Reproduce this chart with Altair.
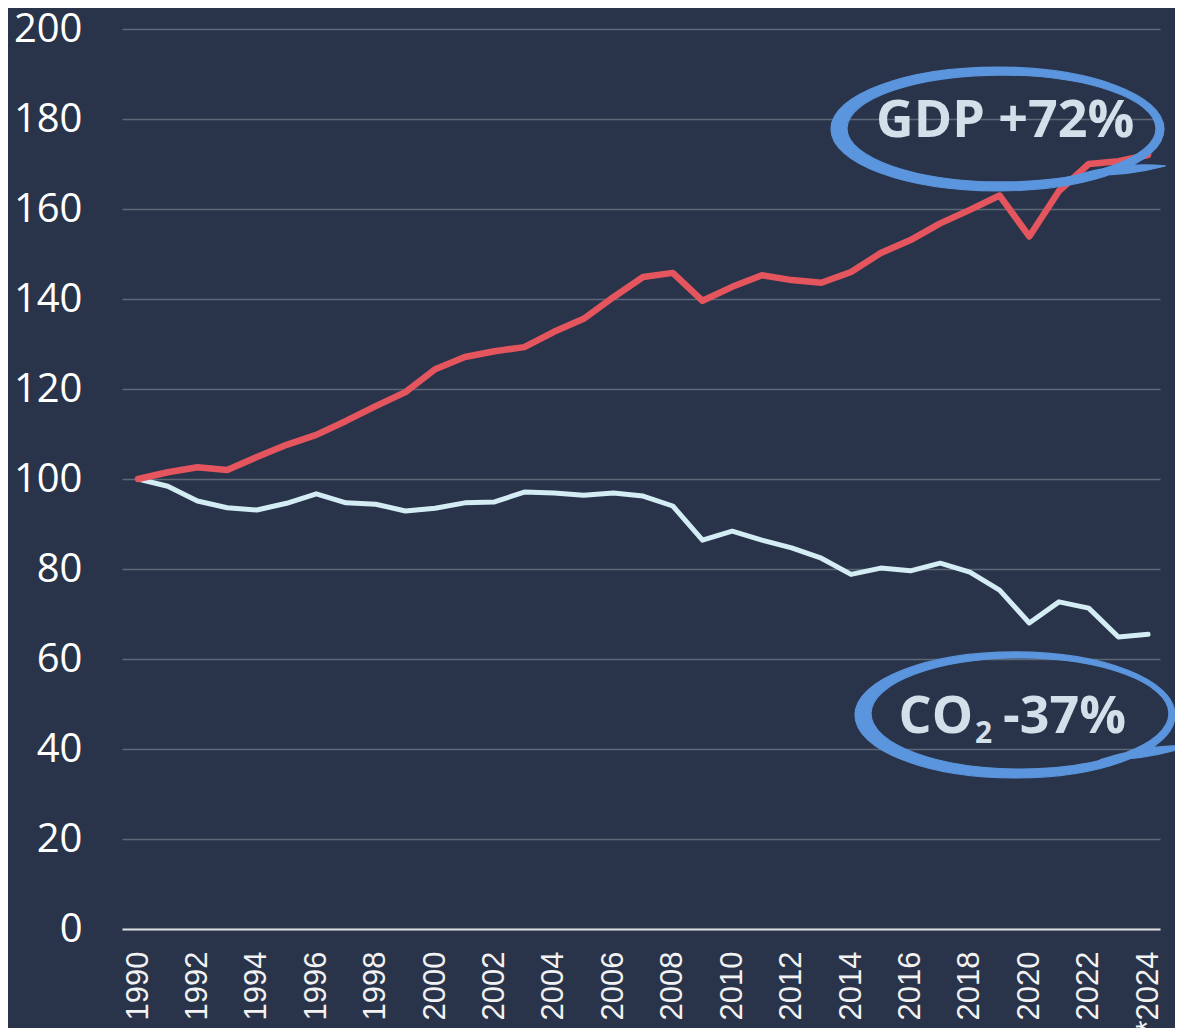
import altair as alt
import pandas as pd

# ---- data ----
years = list(range(1990, 2025))
gdp = [100.0, 101.5, 102.6, 102.0, 104.9, 107.6, 109.8, 112.9, 116.2, 119.3,
       124.4, 127.1, 128.4, 129.3, 132.7, 135.6, 140.4, 144.9, 145.8, 139.6,
       142.7, 145.3, 144.2, 143.6, 146.0, 150.2, 153.1, 156.8, 159.8, 163.0,
       153.9, 164.0, 170.0, 170.6, 172.0]
co2 = [100.0, 98.4, 95.1, 93.6, 93.1, 94.6, 96.7, 94.7, 94.4, 92.9,
       93.5, 94.7, 94.9, 97.1, 96.9, 96.4, 96.9, 96.2, 94.0, 86.4,
       88.4, 86.4, 84.7, 82.4, 78.8, 80.2, 79.6, 81.3, 79.3, 75.3,
       68.0, 72.7, 71.3, 64.9, 65.5]
x_tick_years = list(range(1990, 2025, 2))
y_ticks = list(range(0, 201, 20))

gdp_label = ["GDP +72%"]
gdp_label_pos = [2019.19, 176.0]
gdp_ring_pos = [2018.93, 177.78]

co2_label_parts = ["CO", "2", "-37%"]
co2_label_pos = [2018.14, 43.6]
co2_ring_pos = [2019.52, 47.56]

# ---- styling ----
BG = "#29344a"
RED = "#e5555d"
LIGHT = "#d4ecf4"
RING = "#5b95dd"
ANN_TEXT = "#d3dfe9"

df = pd.DataFrame({"year": years, "gdp": gdp, "co2": co2})

x_scale = alt.Scale(domain=[1989.46, 2024.40], nice=False, zero=False)
y_scale = alt.Scale(domain=[0, 200], nice=False)

x_axis = alt.Axis(
    values=x_tick_years,
    labelExpr="datum.value == 2024 ? '*2024' : '' + datum.value",
    labelAngle=270, labelFontSize=31, labelFont="Liberation Sans",
    labelColor="#f2f2f2", labelPadding=22, labelOverlap=False, labelFlush=False,
    ticks=False, grid=False, domain=True, domainColor="#dedede", domainWidth=2,
    title=None,
)
y_axis = alt.Axis(
    values=y_ticks, labelFontSize=40, labelFont="Open Sans", labelColor="#ffffff",
    labelPadding=40, ticks=False, domain=False, grid=True,
    gridColor="#5d6778", gridWidth=1.5, title=None,
)

base = alt.Chart(df).encode(x=alt.X("year:Q", scale=x_scale, axis=x_axis))

co2_line = base.mark_line(
    color=LIGHT, strokeWidth=5, strokeJoin="round", strokeCap="round"
).encode(y=alt.Y("co2:Q", scale=y_scale, axis=y_axis))

gdp_line = base.mark_line(
    color=RED, strokeWidth=6.5, strokeJoin="round", strokeCap="round"
).encode(y=alt.Y("gdp:Q", scale=y_scale))


K = 0.5523


def ellipse(cx, cy, rx, ry, clockwise=True):
    s = 1 if clockwise else -1
    f = lambda v: f"{v:.4f}"
    return (
        f"M {f(cx + rx)} {f(cy)} "
        f"C {f(cx + rx)} {f(cy + s * K * ry)} {f(cx + K * rx)} {f(cy + s * ry)} {f(cx)} {f(cy + s * ry)} "
        f"C {f(cx - K * rx)} {f(cy + s * ry)} {f(cx - rx)} {f(cy + s * K * ry)} {f(cx - rx)} {f(cy)} "
        f"C {f(cx - rx)} {f(cy - s * K * ry)} {f(cx - K * rx)} {f(cy - s * ry)} {f(cx)} {f(cy - s * ry)} "
        f"C {f(cx + K * rx)} {f(cy - s * ry)} {f(cx + rx)} {f(cy - s * K * ry)} {f(cx + rx)} {f(cy)} Z "
    )


def brush_ring(outer_ry, inner, tail):
    # hand-drawn ring: outer ellipse minus an offset inner ellipse, plus a tapered tail
    icx, icy, irx, iry = inner
    p = ellipse(0, 0, 1, outer_ry, True) + ellipse(icx, icy, irx, iry, False)
    (x0, y0), (x1, y1), cu, cl = tail
    mx = (x0 + x1) / 2
    p += f"M {x0} {y0} Q {mx:.3f} {cu} {x1} {y1} Q {mx:.3f} {cl} {x0} {y0} Z"
    return p


def ring(pos, rx, outer_ry, inner, tail):
    d = pd.DataFrame({"x": [pos[0]], "y": [pos[1]]})
    return alt.Chart(d).mark_point(
        shape=brush_ring(outer_ry, inner, tail), size=(2 * rx) ** 2, filled=True,
        fill=RING, stroke=RING, strokeWidth=1.2, opacity=1, fillOpacity=1,
        strokeJoin="round",
    ).encode(x=alt.X("x:Q", scale=x_scale), y=alt.Y("y:Q", scale=y_scale))


gdp_ring = ring(gdp_ring_pos, 166.5, 0.372, (0.024, -0.003, 0.928, 0.321),
                ((0.48, 0.276), (1.008, 0.222), 0.195, 0.291))
co2_ring = ring(co2_ring_pos, 160, 0.394, (0.031, -0.009, 0.931, 0.347),
                ((0.531, 0.281), (1.1, 0.19), 0.186, 0.286))


def text(label, pos, size, align, dx=0, dy=0):
    d = pd.DataFrame({"x": [pos[0]], "y": [pos[1]], "t": [label]})
    return alt.Chart(d).mark_text(
        font="Open Sans", fontWeight="bold", fontSize=size, color=ANN_TEXT,
        align=align, baseline="alphabetic", dx=dx, dy=dy,
    ).encode(x=alt.X("x:Q", scale=x_scale), y=alt.Y("y:Q", scale=y_scale), text="t:N")


gdp_text = text(gdp_label[0], gdp_label_pos, 52, "center")
co2_text_a = text(co2_label_parts[0], co2_label_pos, 52, "right", dx=-1)
co2_text_b = text(co2_label_parts[1], co2_label_pos, 30, "left", dx=1, dy=10)
co2_text_c = text(co2_label_parts[2], co2_label_pos, 52, "left", dx=29)

chart = alt.layer(
    co2_line, gdp_line, gdp_ring, co2_ring, gdp_text, co2_text_a, co2_text_b, co2_text_c
).properties(
    width=1038, height=900,
    background=BG,
    padding={"left": 114, "top": 21, "right": 15, "bottom": 99},
    autosize=alt.AutoSizeParams(type="none"),
).configure_view(stroke=None)

chart.save("out.html", embed_options={"renderer": "svg", "actions": False})
